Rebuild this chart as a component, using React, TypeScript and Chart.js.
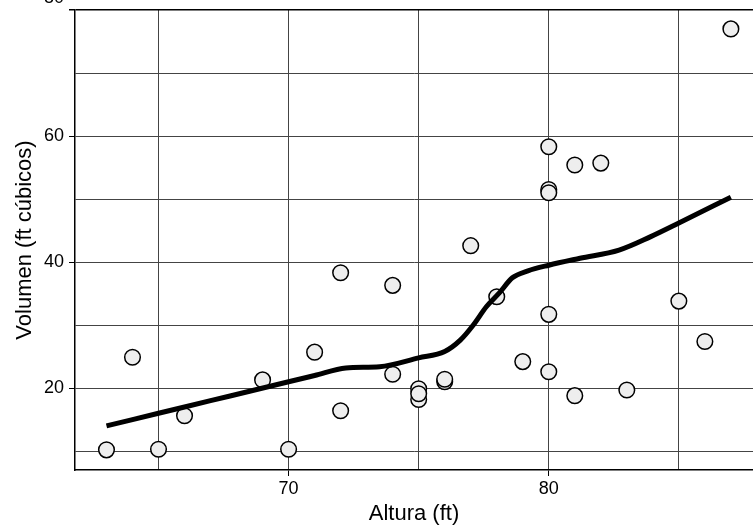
import React, { useEffect, useRef } from "react";
import { Chart, registerables } from "chart.js";

Chart.register(...registerables);

const heights = [70, 65, 63, 72, 81, 83, 66, 75, 80, 75, 79, 76, 76, 69, 75, 74, 85, 86, 71, 64, 78, 80, 74, 72, 77, 81, 82, 80, 80, 80, 87];
const volumes = [10.3, 10.3, 10.2, 16.4, 18.8, 19.7, 15.6, 18.2, 22.6, 19.9, 24.2, 21.0, 21.4, 21.3, 19.1, 22.2, 33.8, 27.4, 25.7, 24.9, 34.5, 31.7, 36.3, 38.3, 42.6, 55.4, 55.7, 58.3, 51.5, 51.0, 77.0];

const smoothX = [63, 65, 67, 68.5, 70, 71, 72.2, 73.5, 75, 76, 76.6, 77.1, 77.6, 78.1, 78.6, 79.2, 80, 81.2, 82.7, 83.9, 85, 87];
const smoothY = [14.0, 16.0, 18.0, 19.5, 21.0, 22.0, 23.2, 23.4, 24.8, 25.8, 27.6, 30.0, 32.9, 35.1, 37.5, 38.6, 39.5, 40.6, 41.9, 44.0, 46.2, 50.3];

const xTicks = [65, 70, 75, 80, 85];
const yTicks = [10, 20, 30, 40, 50, 60, 70, 80];
const xLabelTicks = [70, 80];
const yLabelTicks = [20, 40, 60, 80];
const yTopLabel = 80;

const FONT = "'Liberation Sans', Arial, sans-serif";

const zeroPad = (s: any) => {
  s.paddingTop = 0;
  s.paddingBottom = 0;
  s.paddingLeft = 0;
  s.paddingRight = 0;
};

const topLabelPlugin = {
  id: "topLabel",
  afterDraw(chart: any) {
    const ys = chart.scales.y;
    const ctx = chart.ctx;
    ctx.save();
    ctx.font = `18px ${FONT}`;
    ctx.fillStyle = "#000";
    ctx.textAlign = "right";
    ctx.textBaseline = "middle";
    ctx.fillText(String(yTopLabel), chart.chartArea.left - 11, ys.getPixelForValue(yTopLabel) - 12);
    ctx.restore();
  },
};

export default function App() {
  const ref = useRef<HTMLCanvasElement>(null);
  useEffect(() => {
    document.body.style.margin = "0";
    const ctx = ref.current!.getContext("2d")!;
    const chart = new Chart(ctx, {
      type: "scatter",
      data: {
        datasets: [
          {
            type: "line",
            data: smoothX.map((x, i) => ({ x, y: smoothY[i] })),
            borderColor: "#000",
            borderWidth: 5,
            pointRadius: 0,
            fill: false,
            cubicInterpolationMode: "monotone",
            order: 0,
          } as any,
          {
            type: "scatter",
            data: heights.map((x, i) => ({ x, y: volumes[i] })),
            backgroundColor: "#eeeeee",
            borderColor: "#000",
            borderWidth: 1.5,
            pointRadius: 7.8,
            order: 1,
          },
        ],
      },
      plugins: [topLabelPlugin],
      options: {
        responsive: false,
        animation: false,
        layout: { autoPadding: false, padding: { top: 10, right: 0, bottom: 0, left: 0 } },
        plugins: { legend: { display: false }, tooltip: { enabled: false } },
        scales: {
          x: {
            type: "linear",
            min: 61.79,
            max: 87.85,
            afterBuildTicks: (s: any) => {
              s.ticks = xTicks.map((v) => ({ value: v }));
            },
            afterFit: (s: any) => {
              s.height = 62;
              zeroPad(s);
            },
            grid: {
              color: "#444",
              lineWidth: 1,
              tickLength: 6,
              tickColor: (c: any) => (xLabelTicks.includes(c.tick?.value) ? "#000" : "rgba(0,0,0,0)"),
            },
            border: { color: "#000", width: 1.5 },
            ticks: {
              padding: 2,
              color: "#000",
              font: { family: FONT, size: 18 },
              callback: (v: any) => (xLabelTicks.includes(Number(v)) ? String(v) : ""),
            },
            title: {
              display: true,
              text: "Altura (ft)",
              color: "#000",
              font: { family: FONT, size: 22 },
              padding: { top: 0, bottom: 5 },
            },
          },
          y: {
            type: "linear",
            min: 7,
            max: 80,
            afterBuildTicks: (s: any) => {
              s.ticks = yTicks.map((v) => ({ value: v }));
            },
            afterFit: (s: any) => {
              s.width = 75;
              zeroPad(s);
            },
            grid: {
              color: (c: any) => (c.tick?.value === 80 ? "#000" : "#444"),
              lineWidth: (c: any) => (c.tick?.value === 80 ? 1.5 : 1),
              tickLength: 6,
              tickColor: (c: any) => (yLabelTicks.includes(c.tick?.value) ? "#000" : "rgba(0,0,0,0)"),
            },
            border: { color: "#000", width: 1.5 },
            ticks: {
              padding: 5,
              color: "#000",
              font: { family: FONT, size: 18 },
              callback: (v: any) =>
                yLabelTicks.includes(Number(v)) && Number(v) !== yTopLabel ? String(v) : "",
            },
            title: {
              display: true,
              text: "Volumen (ft cúbicos)",
              color: "#000",
              font: { family: FONT, size: 22 },
              padding: { top: 12, bottom: 0 },
            },
          },
        },
      },
    });
    return () => chart.destroy();
  }, []);
  return (
    <div style={{ position: "fixed", left: 0, top: 0, width: 753, height: 532 }}>
      <canvas ref={ref} width={753} height={532} style={{ display: "block" }} />
    </div>
  );
}
